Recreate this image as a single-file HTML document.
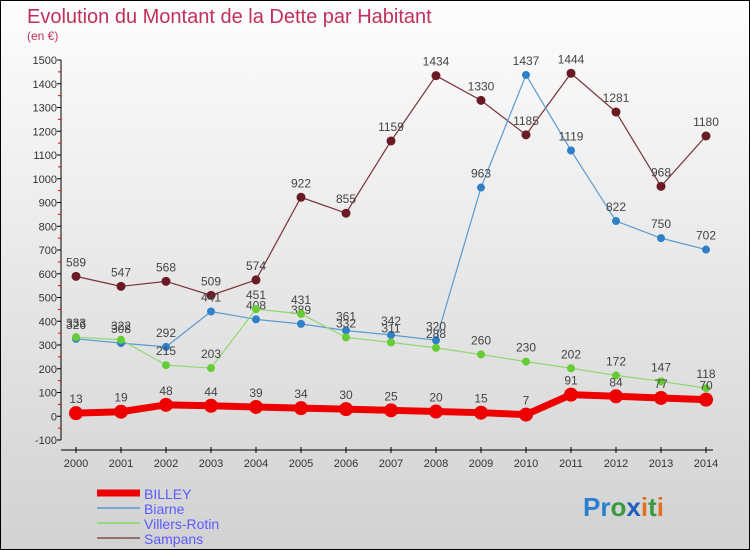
<!DOCTYPE html>
<html><head><meta charset="utf-8"><style>
body{margin:0;}
#wrap{position:relative;width:748px;height:548px;border:1px solid #000;background:linear-gradient(#fdfdfd,#d2d2d2);overflow:hidden;font-family:"Liberation Sans",sans-serif;}
svg text{font-family:"Liberation Sans",sans-serif;}
</style></head><body>
<div id="wrap">
<svg id="chart" width="748" height="548">
<text x="26" y="22" font-size="20" fill="#c0305a">Evolution du Montant de la Dette par Habitant</text>
<text x="26" y="39" font-size="12" fill="#c0305a">(en €)</text>
<g id="axes"></g><g id="series"></g><g id="legend"></g>
<text x="582" y="515" font-size="26" font-weight="bold"><tspan fill="#2a7fd0">Pr</tspan><tspan fill="#3a9a40">o</tspan><tspan fill="#1f5fbf">x</tspan><tspan fill="#e07020">i</tspan><tspan fill="#3a9a40">t</tspan><tspan fill="#e07020">i</tspan></text>
</svg>
</div>
<script>
const years=[2000,2001,2002,2003,2004,2005,2006,2007,2008,2009,2010,2011,2012,2013,2014];
const yTicks=[-100,0,100,200,300,400,500,600,700,800,900,1000,1100,1200,1300,1400,1500];
const billey=[13,19,48,44,39,34,30,25,20,15,7,91,84,77,70];
const biarne=[326,308,292,441,408,389,361,342,320,963,1437,1119,822,750,702];
const villers=[333,322,215,203,451,431,332,311,288,260,230,202,172,147,118];
const sampans=[589,547,568,509,574,922,855,1159,1434,1330,1185,1444,1281,968,1180];
const seriesNames=["BILLEY","Biarne","Villers-Rotin","Sampans"];
const NS="http://www.w3.org/2000/svg";
const xS=i=>75+45*i;
const yS=v=>415.25-v*0.2375;
function mk(tag,attrs,parent){const e=document.createElementNS(NS,tag);for(const k in attrs)e.setAttribute(k,attrs[k]);parent.appendChild(e);return e;}
const ax=document.getElementById('axes');
let yl=mk('line',{x1:60,x2:60,y1:yS(1500),y2:yS(-100),stroke:'#000'},ax);


let xl=mk('line',{x1:60,x2:712,y1:449,y2:449,stroke:'#000'},ax);


yTicks.forEach(t=>{
  mk('line',{x1:56,x2:60,y1:yS(t),y2:yS(t),stroke:'#000'},ax);
  if(t<1500) mk('line',{x1:57,x2:60,y1:yS(t+50),y2:yS(t+50),stroke:'#e00'},ax);
  const tx=mk('text',{x:56,y:yS(t)+4,'font-size':11,'text-anchor':'end',fill:'#333'},ax);
  tx.textContent=t;
  
  
});
years.forEach((y,i)=>{
  mk('line',{x1:xS(i),x2:xS(i),y1:446,y2:452,stroke:'#000'},ax);
  const tx=mk('text',{x:xS(i),y:466,'font-size':11,'text-anchor':'middle',fill:'#333'},ax);
  tx.textContent=y;
  
  
});
const sg=document.getElementById('series');
function draw(vals,color,dot,w,r,name){
  const g=mk('g',{},sg);
  
  
  const pl=mk('polyline',{points:vals.map((v,i)=>xS(i)+','+yS(v)).join(' '),fill:'none',stroke:color,'stroke-width':w},g);
  
  
  vals.forEach((v,i)=>{
    const c=mk('circle',{cx:xS(i),cy:yS(v),r:r,fill:dot},g);
    
    
    const t=mk('text',{x:xS(i),y:yS(v)-10,'font-size':12,'text-anchor':'middle',fill:'#444'},g);
    t.textContent=v;
    
    
  });
}
draw(sampans,'#7a3038','#6a1a22',1.2,4.5,'sampans');
draw(biarne,'#5a9ad0','#2f80c8',1.2,4,'biarne');
draw(villers,'#8ed870','#66cc33',1.2,4,'villers-rotin');
draw(billey,'#ee0000','#ee0000',7,7,'billey');
const lg=document.getElementById('legend');
const lc=['#ee0000','#78a8d0','#98d880','#907070'],lw=[7,2,2,2];
seriesNames.forEach((n,i)=>{
  const y=492+15*i;
  const l=mk('line',{x1:96,x2:139,y1:y,y2:y,stroke:lc[i],'stroke-width':lw[i]},lg);
  
  
  const t=mk('text',{x:143,y:y+6,'font-size':14,fill:'#5a5aff'},lg);
  t.textContent=n;
  
  
});
</script>
</body></html>
